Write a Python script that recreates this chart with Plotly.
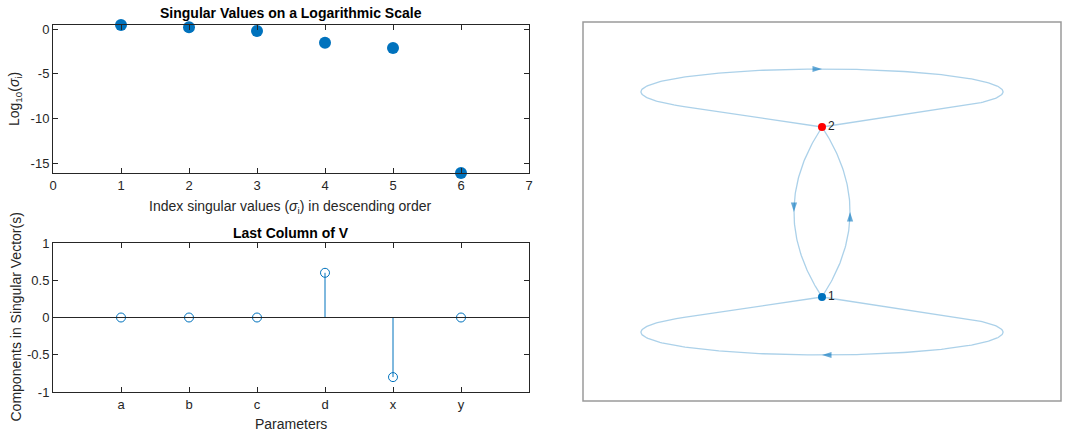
import numpy as np
import plotly.graph_objects as go

# ---------------- data ----------------
# top panel: log10 of singular values
sv_index = [1, 2, 3, 4, 5, 6]
log_sv = [0.45, 0.19, -0.22, -1.53, -2.13, -16.1]
top_xticks = [0, 1, 2, 3, 4, 5, 6, 7]
top_yticks = [-15, -10, -5, 0]
top_yticktext = ["-15", "-10", "-5", "0"]

# bottom panel: last column of V
param_labels = ["a", "b", "c", "d", "x", "y"]
param_pos = [1, 2, 3, 4, 5, 6]
v_last = [0.0, 0.0, 0.0, 0.6, -0.8, 0.0]
bot_yticks = [-1, -0.5, 0, 0.5, 1]
bot_yticktext = ["-1", "-0.5", "0", "0.5", "1"]

# right panel: directed graph (layout coordinates of the nodes)
node_names = ["1", "2"]
node_x = [0.0, 0.0]
node_y = [0.0, 1.0]
node_colors = ["#0072BD", "#FF0000"]
edge_src = [1, 2, 2, 1]
edge_dst = [1, 2, 1, 2]

# ---------------- styling ----------------
FONT = "Liberation Sans, Arial, Helvetica, sans-serif"
AX = "#262626"
BLUE = "#0072BD"
EDGE = "rgba(0,114,189,0.33)"
ARROW = "rgba(0,114,189,0.6)"
W, H = 1065, 436


def px(v):
    return v / W


def py(v):
    return 1 - v / H


fig = go.Figure()

# top: singular values
fig.add_trace(go.Scatter(x=sv_index, y=log_sv, mode="markers",
                         marker=dict(color=BLUE, size=12, line=dict(width=0)),
                         cliponaxis=False, xaxis="x", yaxis="y", showlegend=False))

# bottom: stems
sx, sy = [], []
for p, v in zip(param_pos, v_last):
    sx += [p, p, None]
    sy += [0, v, None]
fig.add_trace(go.Scatter(x=sx, y=sy, mode="lines", line=dict(color=BLUE, width=1),
                         xaxis="x2", yaxis="y2", showlegend=False))
fig.add_trace(go.Scatter(x=param_pos, y=v_last, mode="markers",
                         marker=dict(symbol="circle-open", color=BLUE, size=9,
                                     line=dict(width=1, color=BLUE)),
                         cliponaxis=False, xaxis="x2", yaxis="y2", showlegend=False))

# graph geometry
LOOP_A, LOOP_D, LOOP_B = 1.065, 0.207, 0.134   # self-loop ellipse half-width, offset, half-height
BEND = 0.33                                      # bezier control offset for the two parallel edges


def self_loop(nx, ny, s):
    cy = ny + s * LOOP_D
    th_t = np.arcsin(-LOOP_B / LOOP_D)
    th = np.linspace(th_t, np.pi - th_t, 200)
    xs = nx + LOOP_A * np.cos(th)
    ys = cy + s * LOOP_B * np.sin(th)
    xs = np.concatenate([[nx], xs, [nx]])
    ys = np.concatenate([[ny], ys, [ny]])
    tip = (nx, cy + s * LOOP_B)
    direction = (1.0, 0.0) if s > 0 else (-1.0, 0.0)
    return xs, ys, tip, direction


def bent_edge(x0, y0, x1, y1, side):
    mx, my = (x0 + x1) / 2, (y0 + y1) / 2
    dx, dy = x1 - x0, y1 - y0
    L = np.hypot(dx, dy)
    nxv, nyv = -dy / L, dx / L
    cx, cy = mx + side * BEND * nxv, my + side * BEND * nyv
    t = np.linspace(0, 1, 100)
    xs = (1 - t) ** 2 * x0 + 2 * (1 - t) * t * cx + t ** 2 * x1
    ys = (1 - t) ** 2 * y0 + 2 * (1 - t) * t * cy + t ** 2 * y1
    tip = (0.25 * x0 + 0.5 * cx + 0.25 * x1, 0.25 * y0 + 0.5 * cy + 0.25 * y1)
    direction = (x1 - x0, y1 - y0)
    return xs, ys, tip, direction


arrow_x, arrow_y, arrow_ang = [], [], []
for s_, d_ in zip(edge_src, edge_dst):
    x0, y0 = node_x[s_ - 1], node_y[s_ - 1]
    x1, y1 = node_x[d_ - 1], node_y[d_ - 1]
    if s_ == d_:
        up = 1 if y0 >= max(node_y) else -1
        xs, ys, tip, dirv = self_loop(x0, y0, up)
    else:
        xs, ys, tip, dirv = bent_edge(x0, y0, x1, y1, -1)
    fig.add_trace(go.Scatter(x=xs, y=ys, mode="lines", line=dict(color=EDGE, width=1.3),
                             xaxis="x3", yaxis="y3", showlegend=False, hoverinfo="skip"))
    arrow_x.append(tip[0])
    arrow_y.append(tip[1])
    arrow_ang.append(float(np.degrees(np.arctan2(dirv[0], dirv[1]))))

fig.add_trace(go.Scatter(x=arrow_x, y=arrow_y, mode="markers",
                         marker=dict(symbol="arrow", size=10, angle=arrow_ang, color=ARROW,
                                     line=dict(width=0)),
                         cliponaxis=False, xaxis="x3", yaxis="y3", showlegend=False))

fig.add_trace(go.Scatter(x=node_x, y=node_y, mode="markers+text", text=node_names,
                         textposition="middle right",
                         textfont=dict(family=FONT, size=12, color=AX),
                         marker=dict(color=node_colors, size=8, line=dict(width=0)),
                         cliponaxis=False, xaxis="x3", yaxis="y3", showlegend=False))

# ---------------- layout ----------------
ax_common = dict(showline=True, linecolor=AX, linewidth=1, mirror="ticks", ticks="inside",
                 ticklen=5, tickcolor=AX, tickwidth=1, showgrid=False, zeroline=False,
                 automargin=False,
                 tickfont=dict(family=FONT, size=13, color=AX))

top_dom_x = [px(53), px(529)]
top_dom_y = [py(173), py(25)]
bot_dom_y = [py(392), py(243)]
right_dom_x = [px(583), px(1061)]
right_dom_y = [py(401), py(22)]

SCALE = 170.0  # pixels per layout unit in right panel
node_px_y = 297
x3_range = [(583 - 822) / SCALE, (1061 - 822) / SCALE]
y3_range = [(node_px_y - 401) / SCALE, (node_px_y - 22) / SCALE]

fig.update_layout(
    template="none",
    width=W, height=H, autosize=False,
    margin=dict(l=0, r=0, t=0, b=0, pad=0, autoexpand=False),
    paper_bgcolor="white", plot_bgcolor="white",
    font=dict(family=FONT, color=AX),
    xaxis=dict(domain=top_dom_x, range=[0, 7], tickvals=top_xticks, anchor="y", **ax_common),
    yaxis=dict(domain=top_dom_y, range=[log_sv[-1], log_sv[0]], tickvals=top_yticks,
               ticktext=top_yticktext, anchor="x", **ax_common),
    xaxis2=dict(domain=top_dom_x, range=[0, 7], tickvals=param_pos, ticktext=param_labels,
                anchor="y2", **ax_common),
    yaxis2=dict(domain=bot_dom_y, range=[-1, 1], tickvals=bot_yticks,
                ticktext=bot_yticktext, anchor="x2", **ax_common),
    xaxis3=dict(domain=right_dom_x, range=x3_range, visible=False, anchor="y3", automargin=False),
    yaxis3=dict(domain=right_dom_y, range=y3_range, visible=False, anchor="x3", automargin=False),
    shapes=[
        dict(type="line", xref="x2 domain", yref="y2", x0=0, x1=1, y0=0, y1=0,
             line=dict(color=AX, width=1)),
        dict(type="rect", xref="paper", yref="paper", x0=right_dom_x[0], x1=right_dom_x[1],
             y0=right_dom_y[0], y1=right_dom_y[1], line=dict(color="#9a9a9a", width=1.5)),
    ],
)

mid_x = (top_dom_x[0] + top_dom_x[1]) / 2
ann = [
    dict(text="<b>Singular Values on a Logarithmic Scale</b>", x=mid_x, y=py(13), size=14),
    dict(text="<b>Last Column of V</b>", x=mid_x, y=py(233), size=14),
    dict(text="Index singular values (<i>σ</i><sub>i</sub>) in descending order", x=mid_x, y=py(207),
         size=14),
    dict(text="Parameters", x=mid_x, y=py(424), size=14),
    dict(text="Log<sub>10</sub>(<i>σ</i><sub>i</sub>)", x=px(15), y=py(99), size=14, angle=-90),
    dict(text="Components in Singular Vector(s)", x=px(15), y=py(317.5), size=14, angle=-90),
]
for a in ann:
    fig.add_annotation(text=a["text"], x=a["x"], y=a["y"], xref="paper", yref="paper",
                       showarrow=False, xanchor="center", yanchor="middle",
                       textangle=a.get("angle", 0),
                       font=dict(family=FONT, size=a["size"],
                                 color="#000000" if "<b>" in a["text"] else AX))

page_fix = (
    "document.documentElement.style.margin='0';"
    "document.documentElement.style.padding='0';"
    "document.documentElement.style.overflow='hidden';"
    "document.body.style.margin='0';"
    "document.body.style.padding='0';"
    "document.body.style.overflow='hidden';"
    "var d=document.querySelector('.plotly-graph-div');"
    "if(d){d.style.position='fixed';d.style.left='0px';d.style.top='0px';}"
)

fig.write_html("out.html", config={"displayModeBar": False}, post_script=page_fix)
